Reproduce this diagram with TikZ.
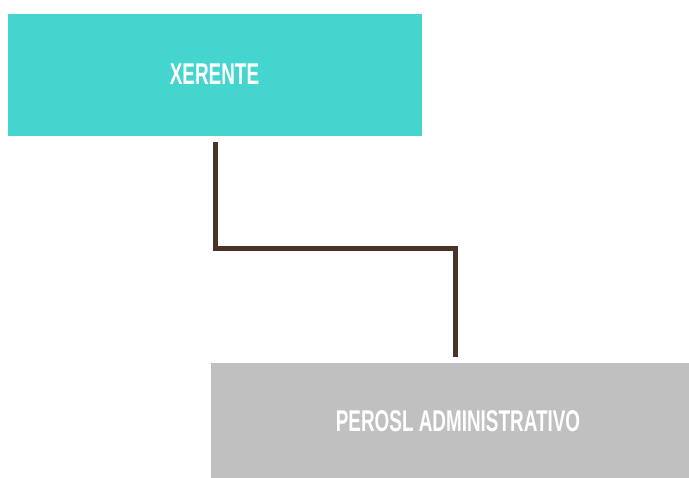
\documentclass[tikz,border=0pt]{standalone}
\usepackage{fontspec}
\setmainfont{Liberation Sans}
\newfontfamily\condfont[FakeStretch=0.63]{Liberation Sans}
\definecolor{turq}{HTML}{45D5CF}
\definecolor{greybox}{HTML}{C0C0C0}
\definecolor{brownline}{HTML}{4B3329}
\usetikzlibrary{calc}
\begin{document}
\begin{tikzpicture}[x=1pt,y=-1pt,
  boxlabel/.style={text=white,font=\condfont\bfseries\fontsize{30}{30}\selectfont,inner sep=0pt},
  plainbox/.style={rectangle,inner sep=0pt,outer sep=0pt},
  conn/.style={draw=brownline,line width=5pt}]
\useasboundingbox[fill=white] (0,0) rectangle (689,478);
\node[plainbox,fill=turq,minimum width=414pt,minimum height=122pt] (top) at (215,75) {};
\node[plainbox,fill=greybox,minimum width=478pt,minimum height=115pt] (bot) at (450,420.5) {};
\node[boxlabel] (xer) at (214.5,74) {XERENTE};
\node[boxlabel] (per) at (458,421) {PEROSL ADMINISTRATIVO};
\coordinate (a) at ($(top.south)+(0.5,6)$);
\coordinate (b) at ($(bot.north)+(5.5,-6)$);
\draw[conn] (a) -- ($(a)+(0,107)$) -| (b);
\end{tikzpicture}
\end{document}
